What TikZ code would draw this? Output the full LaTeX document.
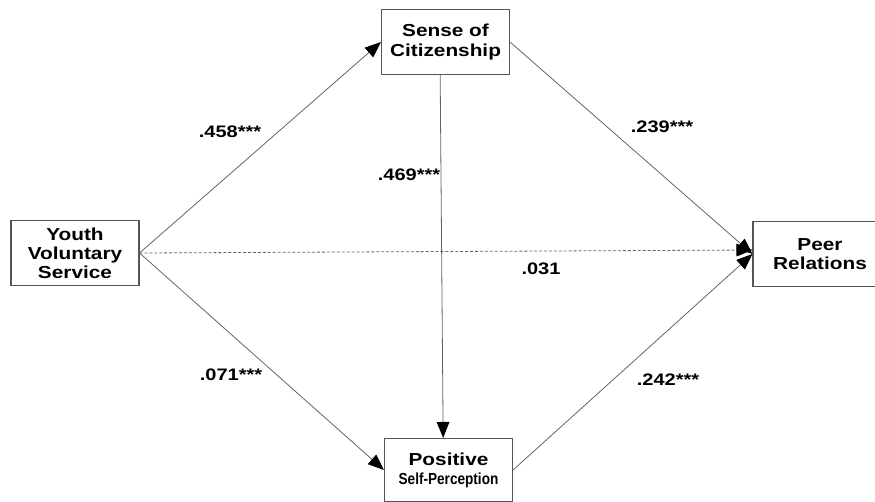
\documentclass[tikz,border=0pt]{standalone}
\usepackage{fontspec}
\setmainfont{Liberation Sans}[FakeStretch=1.2]
\newfontfamily\narrowfont{Liberation Sans}[FakeStretch=0.85]
\usetikzlibrary{arrows.meta}

\definecolor{boxline}{RGB}{85,85,85}
\definecolor{pathline}{RGB}{100,100,100}

\begin{document}
\begin{tikzpicture}[x=0.75pt,y=0.75pt,yscale=-1,xscale=1,
	varbox/.style={draw=boxline,line width=0.8pt,fill=white,minimum width=96pt,minimum height=48.75pt,inner sep=0.75pt,align=center,font=\bfseries\fontsize{13}{14.3}\selectfont},
	coef/.style={inner sep=0.75pt,font=\bfseries\fontsize{12.5}{14.3}\selectfont},
	causal/.style={draw=pathline,line width=0.6pt,-{Triangle[length=12pt,width=9.5pt,color=black,fill=black]}},
	direct/.style={causal,dash pattern=on 2.2pt off 1.5pt}]
	\useasboundingbox (0,0) rectangle (875,501);
	
	% Variables
	\node [varbox] (soc) at (445.5,42) {Sense of\\Citizenship};
	\node [varbox] (yvs) at (75,253) {Youth\\Voluntary\\Service};
	\node [varbox,minimum height=47.25pt] (psp) at (448.5,470) {Positive\\{\narrowfont\fontsize{12}{14.3}\selectfont Self-Perception}};
	\node [varbox,minimum width=100.5pt] (pr) at (820,254) {Peer\\Relations};
	
	%Straight Lines
	\draw [direct] (yvs.east) -- ([yshift=-3pt]pr.west);
	\draw [causal] (yvs.east) -- (soc.west);
	\draw [causal] (yvs.east) -- (psp.west);
	\draw [causal] ([xshift=-4pt]soc.south) -- ([xshift=-4pt]psp.north);
	\draw [causal] (soc.east) -- (pr.west);
	\draw [causal] (psp.east) -- (pr.west);
	
	% Text Node
	\node [coef] (a1) at (230,132) {.458***};
	\node [coef] (a2) at (409,175) {.469***};
	\node [coef] (b1) at (662,127) {.239***};
	\node [coef] (c1) at (541,269) {.031};
	\node [coef] (a3) at (231,375) {.071***};
	\node [coef] (b2) at (668,380) {.242***};
	
\end{tikzpicture}
\end{document}
